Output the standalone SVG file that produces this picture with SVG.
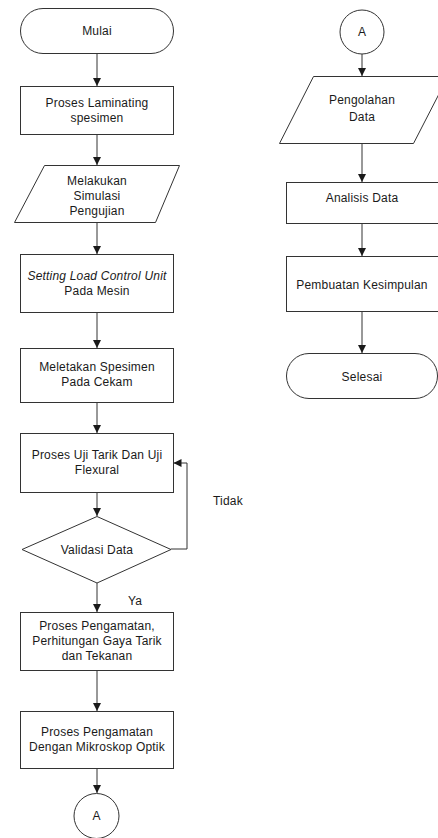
<svg xmlns="http://www.w3.org/2000/svg" width="438" height="838" viewBox="0 0 438 838">
<defs>
<marker id="ah" viewBox="0 0 8 8" refX="8" refY="4" markerWidth="8" markerHeight="8" markerUnits="userSpaceOnUse" orient="auto">
<path d="M0,0 L8,4 L0,8 z" fill="#1a1a1a"/>
</marker>
<style>
.s{fill:#fff;stroke:#333;stroke-width:1}
.t{font-family:"Liberation Sans",Arial,sans-serif;font-size:12px;fill:#1a1a1a;text-anchor:middle;dominant-baseline:central;letter-spacing:0.2px}
.l{font-family:"Liberation Sans",Arial,sans-serif;font-size:12px;fill:#1a1a1a;dominant-baseline:central;letter-spacing:0.2px}
.c{fill:none;stroke:#333;stroke-width:1;marker-end:url(#ah)}
</style>
</defs>
<rect width="438" height="838" fill="#fff"/>
<g id="connectors">
<path class="c" d="M97 53 V86"/>
<path class="c" d="M97 134 V165"/>
<path class="c" d="M97 222 V254"/>
<path class="c" d="M97 312 V348"/>
<path class="c" d="M97 402 V433"/>
<path class="c" d="M97 492 V516"/>
<path class="c" d="M97 583 V612"/>
<path class="c" d="M97 670 V711"/>
<path class="c" d="M97 768 V793"/>
<path class="c" d="M171 549 H187 V463 H173.5"/>
<path class="c" d="M362 54 V76"/>
<path class="c" d="M362 143 V182"/>
<path class="c" d="M362 223 V256"/>
<path class="c" d="M362 311 V353"/>
<text class="l" x="213" y="501">Tidak</text>
<text class="l" x="128" y="601">Ya</text>
</g>
<g id="mulai">
<rect class="s" x="20.5" y="8.5" width="153" height="45" rx="22.5" ry="22.5"/>
<text class="t" x="97" y="30.5">Mulai</text>
</g>
<g id="laminating">
<rect class="s" x="20.5" y="86.5" width="153" height="48"/>
<text class="t" x="97" y="102.5">Proses Laminating</text>
<text class="t" x="97" y="117.5">spesimen</text>
</g>
<g id="simulasi">
<polygon class="s" points="44.5,165.5 179.5,165.5 155.5,222.5 14.5,222.5"/>
<text class="t" x="97" y="180.5">Melakukan</text>
<text class="t" x="97" y="195.5">Simulasi</text>
<text class="t" x="97" y="210.5">Pengujian</text>
</g>
<g id="setting">
<rect class="s" x="20.5" y="254.5" width="153" height="58"/>
<text class="t" x="97" y="276" font-style="italic">Setting Load Control Unit</text>
<text class="t" x="97" y="291">Pada Mesin</text>
</g>
<g id="meletakan">
<rect class="s" x="20.5" y="348.5" width="153" height="54"/>
<text class="t" x="97" y="367">Meletakan Spesimen</text>
<text class="t" x="97" y="382">Pada Cekam</text>
</g>
<g id="ujitarik">
<rect class="s" x="20.5" y="433.5" width="153" height="59"/>
<text class="t" x="97" y="455">Proses Uji Tarik Dan Uji</text>
<text class="t" x="97" y="470">Flexural</text>
</g>
<g id="validasi">
<polygon class="s" points="97,516.5 171,549.5 97,583 22,549.5"/>
<text class="t" x="97" y="549.5">Validasi Data</text>
</g>
<g id="pengamatan">
<rect class="s" x="20.5" y="612.5" width="153" height="58"/>
<text class="t" x="97" y="626">Proses Pengamatan,</text>
<text class="t" x="97" y="641">Perhitungan Gaya Tarik</text>
<text class="t" x="97" y="656">dan Tekanan</text>
</g>
<g id="mikroskop">
<rect class="s" x="20.5" y="711.5" width="153" height="57"/>
<text class="t" x="97" y="732">Proses Pengamatan</text>
<text class="t" x="97" y="747">Dengan Mikroskop Optik</text>
</g>
<g id="a1">
<circle class="s" cx="96.5" cy="816" r="22.5"/>
<text class="t" x="96.5" y="816">A</text>
</g>
<g id="a2">
<circle class="s" cx="362" cy="32" r="22"/>
<text class="t" x="362" y="32">A</text>
</g>
<g id="pengolahan">
<polygon class="s" points="313.5,76.5 448,76.5 413.5,143.5 279.5,143.5"/>
<text class="t" x="362" y="100">Pengolahan</text>
<text class="t" x="362" y="117">Data</text>
</g>
<g id="analisis">
<rect class="s" x="286.5" y="182.5" width="152" height="41"/>
<text class="t" x="362" y="198">Analisis Data</text>
</g>
<g id="kesimpulan">
<rect class="s" x="286.5" y="256.5" width="152" height="55"/>
<text class="t" x="362" y="285">Pembuatan Kesimpulan</text>
</g>
<g id="selesai">
<rect class="s" x="286.5" y="353.5" width="151" height="45" rx="22.5" ry="22.5"/>
<text class="t" x="362" y="377">Selesai</text>
</g>
</svg>
